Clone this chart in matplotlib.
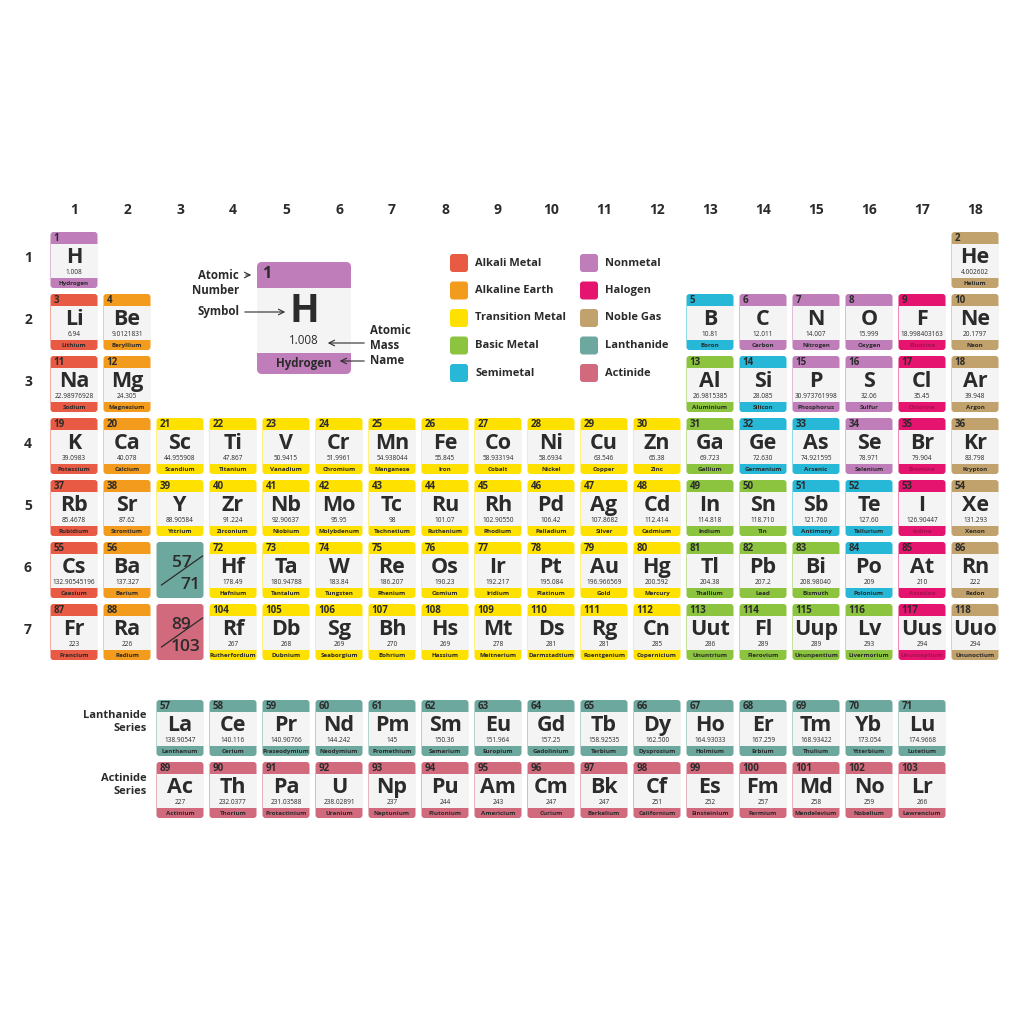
import matplotlib.pyplot as plt
from matplotlib.patches import FancyBboxPatch, Rectangle

plt.rcParams['font.family'] = ['Open Sans', 'DejaVu Sans']

# ---- data -------------------------------------------------------------
symbols = ("H He Li Be B C N O F Ne Na Mg Al Si P S Cl Ar "
           "K Ca Sc Ti V Cr Mn Fe Co Ni Cu Zn Ga Ge As Se Br Kr "
           "Rb Sr Y Zr Nb Mo Tc Ru Rh Pd Ag Cd In Sn Sb Te I Xe "
           "Cs Ba La Ce Pr Nd Pm Sm Eu Gd Tb Dy Ho Er Tm Yb Lu "
           "Hf Ta W Re Os Ir Pt Au Hg Tl Pb Bi Po At Rn "
           "Fr Ra Ac Th Pa U Np Pu Am Cm Bk Cf Es Fm Md No Lr "
           "Rf Db Sg Bh Hs Mt Ds Rg Cn Uut Fl Uup Lv Uus Uuo").split()

names = ("Hydrogen Helium Lithium Beryllium Boron Carbon Nitrogen Oxygen Fluorine Neon "
         "Sodium Magnesium Aluminium Silicon Phosphorus Sulfur Chlorine Argon "
         "Potassium Calcium Scandium Titanium Vanadium Chromium Manganese Iron Cobalt "
         "Nickel Copper Zinc Gallium Germanium Arsenic Selenium Bromine Krypton "
         "Rubidium Strontium Yttrium Zirconium Niobium Molybdenum Technetium Ruthenium "
         "Rhodium Palladium Silver Cadmium Indium Tin Antimony Tellurium Iodine Xenon "
         "Caesium Barium Lanthanum Cerium Praseodymium Neodymium Promethium Samarium "
         "Europium Gadolinium Terbium Dysprosium Holmium Erbium Thulium Ytterbium Lutetium "
         "Hafnium Tantalum Tungsten Rhenium Osmium Iridium Platinum Gold Mercury Thallium "
         "Lead Bismuth Polonium Astatine Radon "
         "Francium Radium Actinium Thorium Protactinium Uranium Neptunium Plutonium "
         "Americium Curium Berkelium Californium Einsteinium Fermium Mendelevium Nobelium "
         "Lawrencium Rutherfordium Dubnium Seaborgium Bohrium Hassium Meitnerium "
         "Darmstadtium Roentgenium Copernicium Ununtrium Flerovium Ununpentium "
         "Livermorium Ununseptium Ununoctium").split()

masses = ("1.008 4.002602 6.94 9.0121831 10.81 12.011 14.007 15.999 18.998403163 20.1797 "
          "22.98976928 24.305 26.9815385 28.085 30.973761998 32.06 35.45 39.948 "
          "39.0983 40.078 44.955908 47.867 50.9415 51.9961 54.938044 55.845 58.933194 "
          "58.6934 63.546 65.38 69.723 72.630 74.921595 78.971 79.904 83.798 "
          "85.4678 87.62 88.90584 91.224 92.90637 95.95 98 101.07 102.90550 106.42 "
          "107.8682 112.414 114.818 118.710 121.760 127.60 126.90447 131.293 "
          "132.90545196 137.327 138.90547 140.116 140.90766 144.242 145 150.36 151.964 "
          "157.25 158.92535 162.500 164.93033 167.259 168.93422 173.054 174.9668 "
          "178.49 180.94788 183.84 186.207 190.23 192.217 195.084 196.966569 200.592 "
          "204.38 207.2 208.98040 209 210 222 "
          "223 226 227 232.0377 231.03588 238.02891 237 244 243 247 247 251 252 257 258 "
          "259 266 267 268 269 270 269 278 281 281 285 286 289 289 293 294 294").split()

# A alkali, E alkaline earth, T transition, B basic, S semimetal,
# N nonmetal, H halogen, G noble gas, L lanthanide, C actinide
kinds = ("NG" "AESNNNHG" "AEBSNNHG"
         "AE" + "T" * 10 + "BSSNHG"
         "AE" + "T" * 10 + "BBSSHG"
         "AE" + "L" * 15 + "T" * 9 + "BBBSHG"
         "AE" + "C" * 15 + "T" * 9 + "BBBBHG")

legend_rows = [("A", "Alkali Metal"), ("E", "Alkaline Earth"), ("T", "Transition Metal"),
               ("B", "Basic Metal"), ("S", "Semimetal"), ("N", "Nonmetal"),
               ("H", "Halogen"), ("G", "Noble Gas"), ("L", "Lanthanide"), ("C", "Actinide")]

colors = {"A": "#e85a43", "E": "#f29b1d", "T": "#ffe100", "B": "#8cc43f",
          "S": "#27b8d8", "N": "#bf7db9", "H": "#e5146f", "G": "#c1a26c",
          "L": "#6da89f", "C": "#d16a7c"}

BODY = "#f4f4f4"
TXT = "#2b2b2b"


def position(z):
    """group column and display row of element z"""
    if z == 1:
        return 1, 1
    if z == 2:
        return 18, 1
    for start, row in ((3, 2), (11, 3)):
        if start <= z < start + 8:
            k = z - start
            return (k + 1 if k < 2 else k + 11), row
    if 19 <= z <= 54:
        return (z - 19) % 18 + 1, 4 + (z - 19) // 18
    for start, row, frow in ((55, 6, 8), (87, 7, 9)):
        if z < start + 2 and z >= start:
            return z - start + 1, row
        if start + 2 <= z <= start + 16:
            return z - start - 2 + 3, frow
        if start + 17 <= z <= start + 31:
            return z - start - 17 + 4, row
    return None


# ---- layout -----------------------------------------------------------
X0, DX, W = 50.5, 53, 47
row_top = {1: 232, 2: 294, 3: 356, 4: 418, 5: 480, 6: 542, 7: 604, 8: 700, 9: 762}
H = 56

fig = plt.figure(figsize=(10.24, 10.24), dpi=100)
ax = fig.add_axes([0, 0, 1, 1])
ax.set_xlim(0, 1024)
ax.set_ylim(1024, 0)
ax.axis('off')


def rbox(x, y, w, h, color, r=3):
    ax.add_patch(FancyBboxPatch((x, y), w, h, boxstyle=f"round,pad=0,rounding_size={r}",
                                fc=color, ec='none'))


def cell(x, y, w, h, color, top, bot, r=3):
    rbox(x, y, w, h, color, r)
    ax.add_patch(Rectangle((x, y + top), w, h - top - bot, fc=BODY, ec='none'))


for i, sym in enumerate(symbols):
    z = i + 1
    col, row = position(z)
    x = X0 + (col - 1) * DX
    y = row_top[row]
    k = kinds[i]
    cell(x, y, W, H, colors[k], 12, 10)
    ax.text(x + 3, y + 6.3, str(z), fontsize=7, weight='bold', color=TXT, ha='left', va='center')
    ax.text(x + W / 2, y + 25.5, sym, fontsize=15.5, weight='bold', color=TXT,
            ha='center', va='center')
    ax.text(x + W / 2, y + 40, masses[i], fontsize=4.7, color=TXT, ha='center', va='center')
    ncol = "#a3124f" if k == "H" else TXT
    ax.text(x + W / 2, y + H - 4.8, names[i], fontsize=4.5, weight='bold', color=ncol,
            ha='center', va='center')

# placeholder cells for the f-block
for row, color, a, b in ((6, colors["L"], "57", "71"), (7, colors["C"], "89", "103")):
    x = X0 + 2 * DX
    y = row_top[row]
    rbox(x, y, W, H, color)
    ax.plot([x + 5, x + 46], [y + 43, y + 14], color=TXT, lw=0.9)
    ax.text(x + 25, y + 21, a, fontsize=12.5, weight='semibold', color=TXT, ha='center', va='center')
    ax.text(x + 44, y + 43, b, fontsize=12.5, weight='semibold', color=TXT, ha='right', va='center')

# group and period labels
for g in range(1, 19):
    ax.text(X0 + (g - 1) * DX + W / 2, 210, str(g), fontsize=10, weight='bold', color=TXT,
            ha='center', va='center')
for p in range(1, 8):
    ax.text(28, row_top[p] + 26, str(p), fontsize=10, weight='bold', color=TXT,
            ha='center', va='center')

ax.text(147, 722, "Lanthanide\nSeries", fontsize=8, weight='bold', color=TXT,
        ha='right', va='center', linespacing=1.3)
ax.text(147, 785, "Actinide\nSeries", fontsize=8, weight='bold', color=TXT,
        ha='right', va='center', linespacing=1.3)

# key cell
kx, ky, kw, kh = 257, 262, 94, 112
cell(kx, ky, kw, kh, colors["N"], 26, 21, r=5)
ax.text(kx + 5, ky + 12, "1", fontsize=11.5, weight='bold', color=TXT, ha='left', va='center')
ax.text(kx + kw / 2, ky + 50, "H", fontsize=28, weight='bold', color=TXT, ha='center', va='center')
ax.text(kx + kw / 2, ky + 79, "1.008", fontsize=8.3, color=TXT, ha='center', va='center')
ax.text(kx + kw / 2, ky + 101, "Hydrogen", fontsize=8.3, weight='bold', color=TXT,
        ha='center', va='center')

ann = dict(fontsize=8.3, weight='bold', color=TXT, va='center', linespacing=1.25)
ax.text(239, 283, "Atomic\nNumber", ha='right', **ann)
ax.text(239, 312, "Symbol", ha='right', **ann)
ax.text(370, 338, "Atomic\nMass", ha='left', **ann)
ax.text(370, 361, "Name", ha='left', **ann)
arrow = dict(arrowstyle='->', color=TXT, lw=0.8)
ax.annotate("", xy=(254, 275), xytext=(243, 275), arrowprops=arrow)
ax.annotate("", xy=(288, 312), xytext=(242, 312), arrowprops=arrow)
ax.annotate("", xy=(325, 343), xytext=(367, 343), arrowprops=arrow)
ax.annotate("", xy=(337, 361), xytext=(367, 361), arrowprops=arrow)

# legend
for j, (k, label) in enumerate(legend_rows):
    lx = 450 if j < 5 else 580
    ly = 263 + (j % 5) * 27.5
    rbox(lx, ly - 9, 18, 18, colors[k], r=3)
    ax.text(lx + 25, ly, label, fontsize=8, weight='bold', color=TXT, ha='left', va='center')

fig.savefig("out.png", dpi=100, facecolor='white')
